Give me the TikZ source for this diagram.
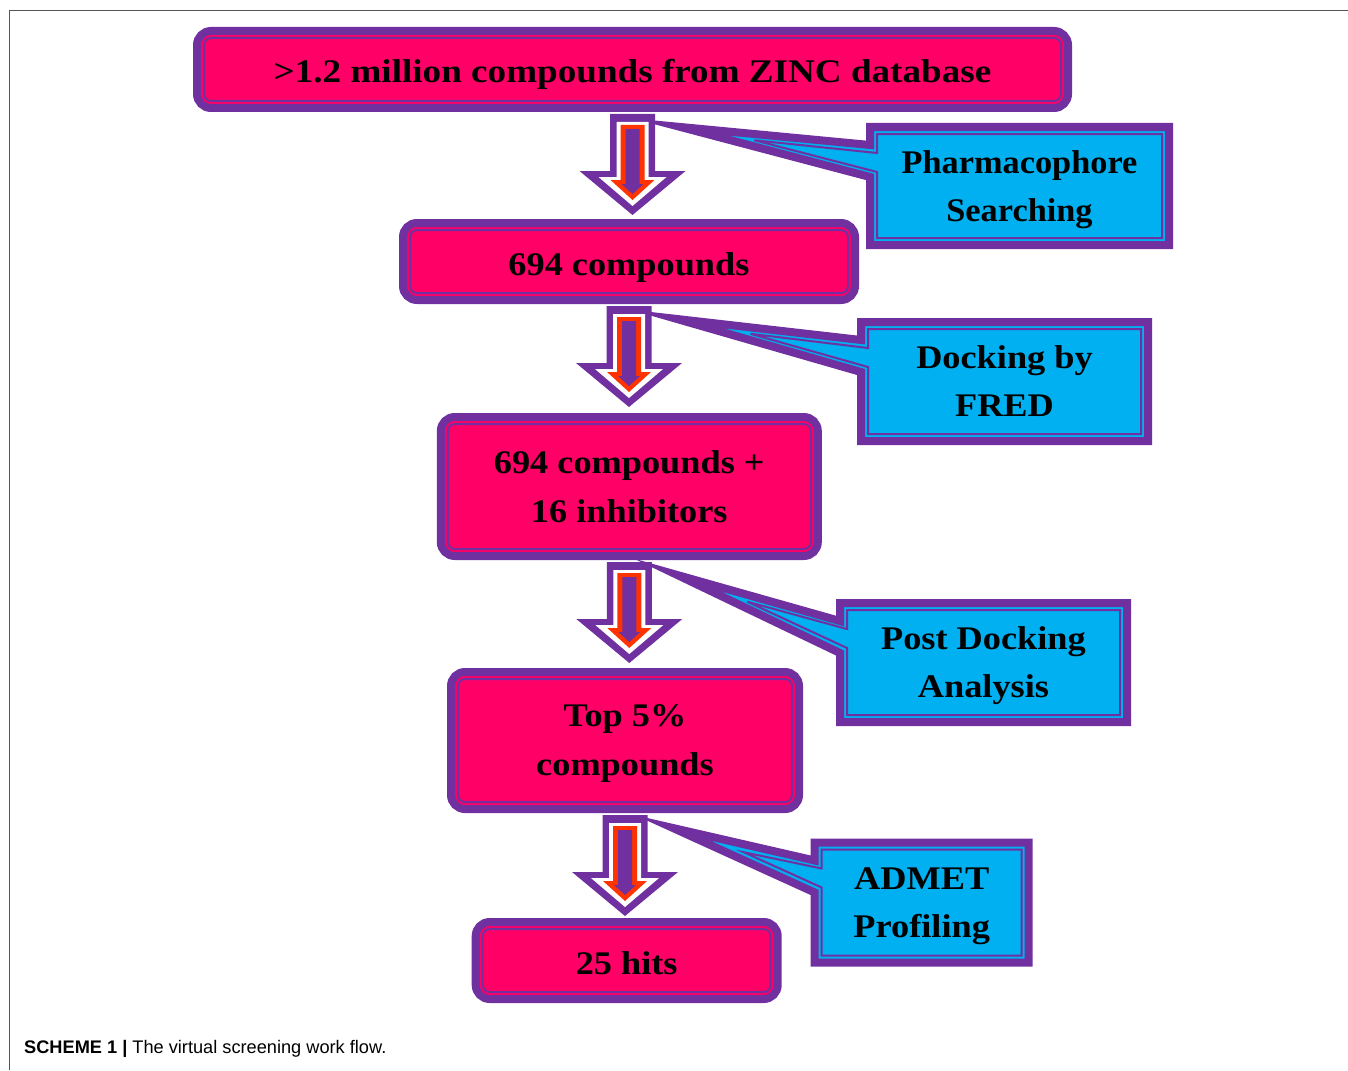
\documentclass[tikz,border=0pt]{standalone}
\usepackage{fontspec}
\usepackage{xcolor}
\usepackage{tikz}
\usetikzlibrary{calc}
\newfontfamily\boxfont{Liberation Serif}[FakeStretch=1.10]
\newfontfamily\wideboxfont{Liberation Serif}[FakeStretch=1.125]
\newfontfamily\narrowboxfont{Liberation Serif}[FakeStretch=1.04]
\setsansfont{Liberation Sans}

\definecolor{violetline}{HTML}{7030A0}
\definecolor{hotpink}{HTML}{FF0066}
\definecolor{skyblue}{HTML}{00B0F0}
\definecolor{redorange}{HTML}{FF3300}
\definecolor{framegray}{HTML}{555555}

\pgfdeclarelayer{bg}
\pgfsetlayers{bg,main}

% block arrow hanging under a stage box
\newcommand{\flowarrow}[1]{%
  \begin{scope}[shift={(#1.south)}]
    \fill[violetline] (-22.5,6) -- (22.5,6) -- (22.5,63) -- (53,63) -- (0,107) -- (-53,63) -- (-22.5,63) -- cycle;
    \fill[white] (-16,14) -- (16,14) -- (16,69) -- (34,69) -- (0,98) -- (-34,69) -- (-16,69) -- cycle;
    \fill[redorange] (-12,17) -- (12,17) -- (12,72) -- (22,72) -- (0,92) -- (-22,72) -- (-12,72) -- cycle;
    \fill[violetline] (-7,21) -- (7,21) -- (7,76) -- (11,76) -- (0,86) -- (-11,76) -- (-7,76) -- cycle;
  \end{scope}}

% callout box with its tail pointing at the arrow under #2
\newcommand{\calloutshape}[2]{%
  \coordinate (#1-a) at ($(#1.north west)+(0,18)$);
  \coordinate (#1-b) at ($(#1.north west)+(0,50)$);
  \coordinate (#1-t) at ($(#2.south)+(48,19)$);
  \draw[violetline, fill=skyblue, line width=8pt, miter limit=25] (#1-t) -- (#1-a) -- (#1.north west) -- (#1.north east)
    -- (#1.south east) -- (#1.south west) -- (#1-b) -- cycle;
  \draw[innerline] ($(#1-t)!75pt!($(#1-a)!.5!(#1-b)$)$) -- ($(#1-a)+(7,8)$) -- ($(#1.north west)+(7,7)$)
    -- ($(#1.north east)+(-7,7)$) -- ($(#1.south east)+(-7,-7)$) -- ($(#1.south west)+(7,-7)$) -- ($(#1-b)+(7,-5)$) -- cycle;}

\begin{document}
\begin{tikzpicture}[x=1pt, y=-1pt,
    stage/.style={draw=violetline, fill=hotpink, line width=8pt, rounded corners=14pt, outer sep=0pt, inner sep=0pt,
      align=center, text depth=0pt, font=\boxfont\bfseries\fontsize{33}{49}\selectfont},
    oneline/.style={text height=27pt},
    callout/.style={outer sep=0pt, inner sep=0pt, align=center, text depth=0pt,
      font=\boxfont\bfseries\fontsize{33}{48}\selectfont},
    innerline/.style={draw=violetline, line width=2pt}]
        \useasboundingbox (0,0) rectangle (1348,1070);
        \draw[framegray, line width=1.5pt] (9.5,1070) -- (9.5,10.5) -- (1348,10.5);

        % stages
        \node[stage, oneline, minimum width=871pt, minimum height=77pt,
            font=\wideboxfont\bfseries\fontsize{33}{49}\selectfont] (zinc) at (632.5,69.5) {>1.2 million compounds from ZINC database};
        \node[stage, oneline, minimum width=452pt, minimum height=77pt] (cmpd) at (629,261.5) {694 compounds};
        \node[stage, minimum width=377pt, minimum height=139pt] (inhib) at (629.3,486.5) {694 compounds +\\16 inhibitors};
        \node[stage, minimum width=348pt, minimum height=137pt] (topfive) at (625,740.5) {Top 5\%\\compounds};
        \node[stage, oneline, minimum width=302pt, minimum height=77pt] (hits) at (626.7,960.5) {25 hits};
        \foreach \n in {zinc,cmpd,inhib,topfive,hits}
            \draw[innerline, rounded corners=7pt] ($(\n.south west)+(7,-7)$) rectangle ($(\n.north east)+(-7,7)$);

        % steps
        \node[callout, minimum width=299pt, minimum height=118pt,
            font=\narrowboxfont\bfseries\fontsize{33}{48}\selectfont] (pharm) at (1019.5,186) {Pharmacophore\\Searching};
        \node[callout, minimum width=287pt, minimum height=119pt] (fred) at (1004.5,381.5) {Docking by\\FRED};
        \node[callout, minimum width=287pt, minimum height=119pt] (post) at (983.5,662.5) {Post Docking\\Analysis};
        \node[callout, minimum width=214pt, minimum height=120pt] (admet) at (921.7,902.5) {ADMET\\Profiling};
        \begin{pgfonlayer}{bg}
            \calloutshape{pharm}{zinc}
            \calloutshape{fred}{cmpd}
            \calloutshape{post}{inhib}
            \calloutshape{admet}{topfive}
        \end{pgfonlayer}

        \flowarrow{zinc}
        \flowarrow{cmpd}
        \flowarrow{inhib}
        \flowarrow{topfive}

        \node[anchor=base west, inner sep=0pt, font=\sffamily\fontsize{18.2}{22}\selectfont] (caption) at (24,1053)
            {\textbf{SCHEME 1 |} The virtual screening work flow.};
    \end{tikzpicture}
\end{document}
